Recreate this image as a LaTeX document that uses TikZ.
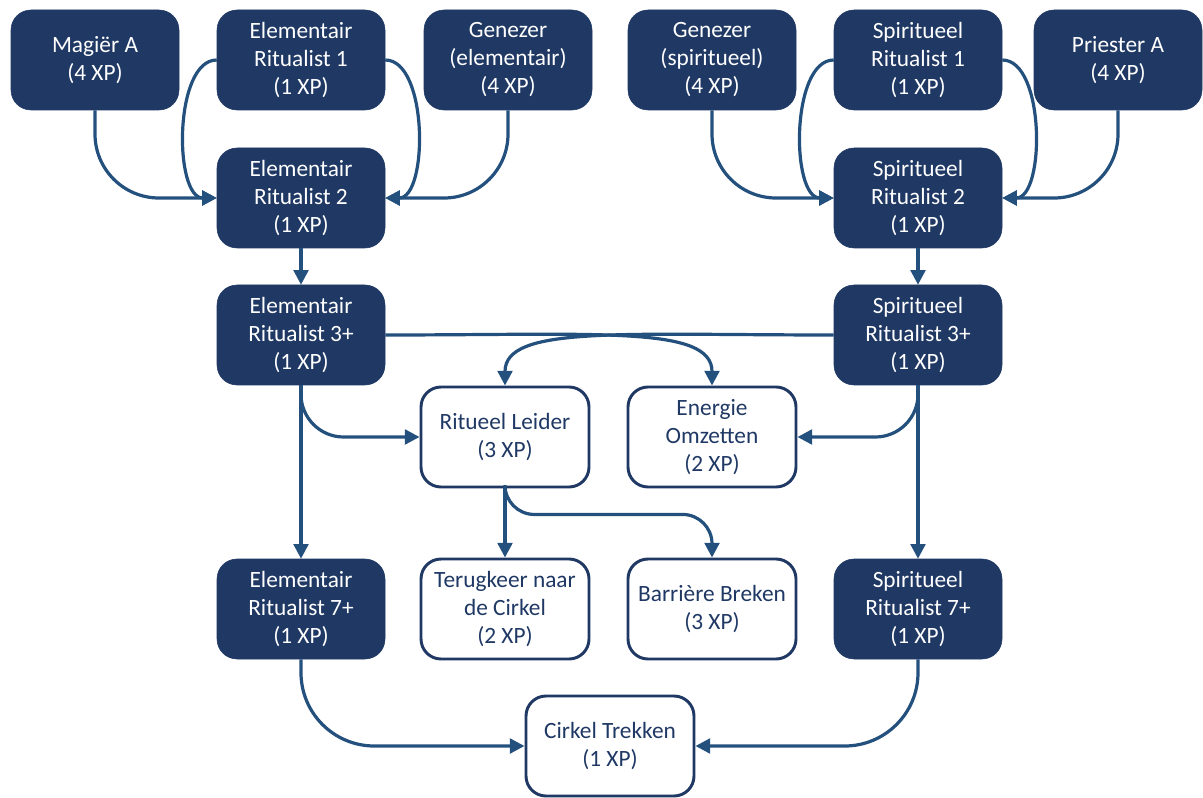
\documentclass[tikz,border=0pt]{standalone}
\usepackage{fontspec}
\setmainfont{Carlito}
\usetikzlibrary{arrows.meta}
\definecolor{navy}{HTML}{1F3864}
\definecolor{link}{HTML}{24507E}
\begin{document}
\begin{tikzpicture}[x=0.75pt,y=-0.75pt,
  box/.style={rounded corners=15pt, minimum width=126pt, minimum height=75pt,
    align=center, inner sep=0pt, font=\fontsize{17.5}{21}\selectfont},
  dark/.style={box, fill=navy, draw=navy, text=white},
  light/.style={box, fill=white, draw=navy, line width=2.2pt, text=navy},
  arr/.style={draw=link, line width=2.4pt, -{Triangle[length=11pt,width=11pt]}}]

\fill[white] (0,0) rectangle (1203,798);
\useasboundingbox (0,0) rectangle (1203,798);

% top row
\node[dark] (mag)  at (95,60)   {Magiër A\\(4 XP)};
\node[dark] (er1)  at (301,60)  {Elementair\\Ritualist 1\\(1 XP)};
\node[dark] (gen1) at (508,60)  {Genezer\\(elementair)\\(4 XP)};
\node[dark] (gen2) at (712,60)  {Genezer\\(spiritueel)\\(4 XP)};
\node[dark] (sr1)  at (918,60)  {Spiritueel\\Ritualist 1\\(1 XP)};
\node[dark] (pri)  at (1118,60) {Priester A\\(4 XP)};

% ritualist ladders
\node[dark] (er2) at (301,198) {Elementair\\Ritualist 2\\(1 XP)};
\node[dark] (sr2) at (918,198) {Spiritueel\\Ritualist 2\\(1 XP)};
\node[dark] (er3) at (301,335) {Elementair\\Ritualist 3+\\(1 XP)};
\node[dark] (sr3) at (918,335) {Spiritueel\\Ritualist 3+\\(1 XP)};
\node[dark] (er7) at (301,609) {Elementair\\Ritualist 7+\\(1 XP)};
\node[dark] (sr7) at (918,609) {Spiritueel\\Ritualist 7+\\(1 XP)};

% skills
\node[light] (rl) at (505,437) {Ritueel Leider\\(3 XP)};
\node[light] (eo) at (712,437) {Energie\\Omzetten\\(2 XP)};
\node[light] (tc) at (505,609) {Terugkeer naar\\de Cirkel\\(2 XP)};
\node[light] (bb) at (712,609) {Barrière Breken\\(3 XP)};
\node[light] (ct) at (610,746) {Cirkel Trekken\\(1 XP)};

% into ritualist 2
\draw[arr, rounded corners=48pt] (mag.south) |- (er2.west);
\draw[arr] (er1.west) to[out=180,in=180,looseness=0.8] (er2.west);
\draw[arr] (er1.east) to[out=0,in=0,looseness=0.8] (er2.east);
\draw[arr, rounded corners=48pt] (gen1.south) |- (er2.east);
\draw[arr, rounded corners=48pt] (gen2.south) |- (sr2.west);
\draw[arr] (sr1.west) to[out=180,in=180,looseness=0.8] (sr2.west);
\draw[arr] (sr1.east) to[out=0,in=0,looseness=0.8] (sr2.east);
\draw[arr, rounded corners=48pt] (pri.south) |- (sr2.east);

% ladder steps
\draw[arr] (er2.south) -- (er3.north);
\draw[arr] (sr2.south) -- (sr3.north);
\draw[arr] (er3.south) -- (er7.north);
\draw[arr] (sr3.south) -- (sr7.north);

% from ritualist 3+
\draw[arr, rounded corners=32pt] (er3.south) |- (rl.west);
\draw[arr, rounded corners=32pt] (sr3.south) |- (eo.east);
\draw[arr] (er3.east) .. controls +(215,0) and +(0,-60) .. (eo.north);
\draw[arr] (sr3.west) .. controls +(-215,0) and +(0,-60) .. (rl.north);

% from ritueel leider
\draw[arr] (rl.south) -- (tc.north);
\draw[arr, rounded corners=22pt] (rl.south) -- ++(0,26) -| (bb.north);

% into cirkel trekken
\draw[arr, rounded corners=55pt] (er7.south) |- (ct.west);
\draw[arr, rounded corners=55pt] (sr7.south) |- (ct.east);
\end{tikzpicture}
\end{document}
